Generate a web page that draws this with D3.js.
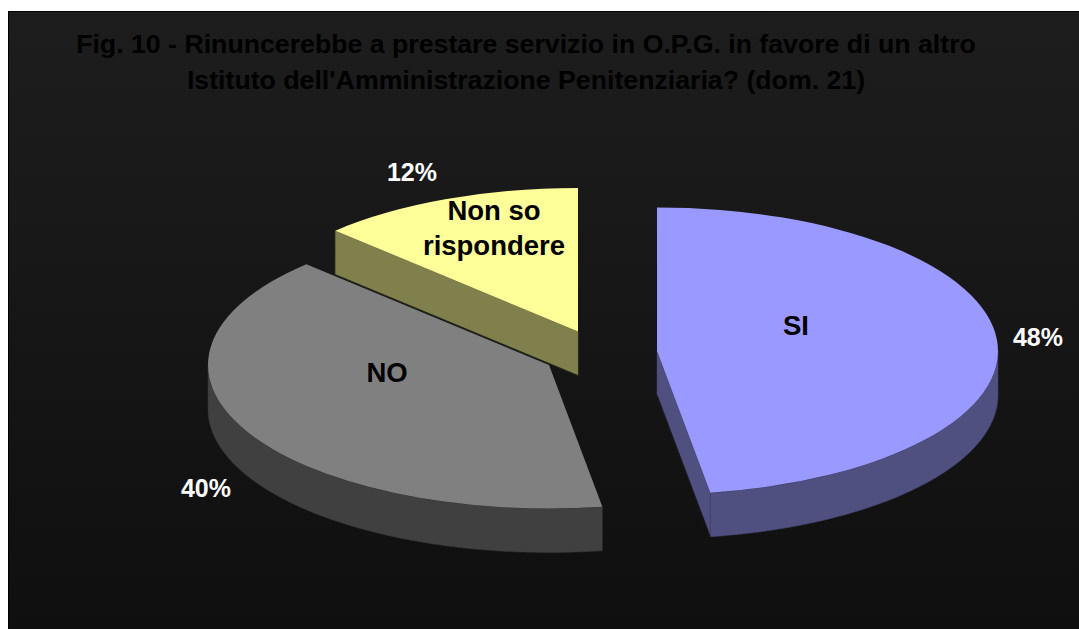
<!DOCTYPE html>
<html>
<head>
<meta charset="utf-8">
<script src="https://cdnjs.cloudflare.com/ajax/libs/d3/7.8.5/d3.min.js"></script>
<style>
  html, body { margin: 0; padding: 0; background: #fff; }
  svg { display: block; }
  text { font-family: "Liberation Sans", Arial, sans-serif; font-weight: bold; text-anchor: middle; }
</style>
</head>
<body>
<div id="chart"></div>
<script>
// values
const categories = ["SI", "NO", "Non so rispondere"];
const values = [47.5, 39.9, 12.6];
const percentLabels = ["48%", "40%", "12%"];
const titleLines = [
  "Fig. 10 - Rinuncerebbe a prestare servizio in O.P.G. in favore di un altro",
  "Istituto dell'Amministrazione Penitenziaria? (dom. 21)"
];

const w = 1079;
const h = 629;

// ellipse of the tilted pie and height of its side wall
const rx = 341;
const ry = 143.5;
const depth = 44;

// each slice is pulled away from the others, so each has its own apex
const apex = [[657, 351], [549, 365], [578, 331.5]];
const topColors = ["#9999ff", "#808080", "#ffff99"];
const sideColors = ["#4f4f80", "#404040", "#80804d"];

const catLabelPos = [[[796, 335]], [[387, 382]], [[494, 220], [494, 255]]];
const catLabelLines = [["SI"], ["NO"], ["Non so", "rispondere"]];
const pctLabelPos = [[1038, 346], [206, 497], [412, 181]];

const svg = d3.select("#chart").append("svg")
  .attr("width", w)
  .attr("height", h);

const grad = svg.append("defs").append("linearGradient")
  .attr("id", "bg")
  .attr("x1", 0).attr("y1", 0)
  .attr("x2", 0).attr("y2", 1);
grad.append("stop").attr("offset", "0%").attr("stop-color", "#1d1d1d");
grad.append("stop").attr("offset", "100%").attr("stop-color", "#0f0f0f");

// plot panel with thin black edge on top and left
svg.append("rect")
  .attr("x", 8).attr("y", 11)
  .attr("width", w - 8).attr("height", h - 11)
  .attr("fill", "url(#bg)");
svg.append("path")
  .attr("d", `M8.5,${h}V11.5H${w}`)
  .attr("fill", "none")
  .attr("stroke", "#000")
  .attr("stroke-width", 1);

// title
svg.selectAll(".title")
  .data(titleLines)
  .enter()
    .append("text")
    .classed("title", true)
    .attr("x", 526)
    .attr("y", (d, i) => 53 + i * 36)
    .attr("font-size", 26.7)
    .attr("fill", "#000")
    .text(d => d);

const pie = d3.pie().sort(null)(values);
const arc = d3.arc().innerRadius(0).outerRadius(rx);

// point of the ellipse at angle a (0 at the top, going clockwise)
const px = (i, a) => apex[i][0] + rx * Math.sin(a);
const py = (i, a) => apex[i][1] - ry * Math.cos(a);

const line = d3.line().x(d => d[0]).y(d => d[1]);

pie.forEach((slice, i) => {
  const g = svg.append("g").classed("slice", true);

  // outer wall, only the part on the front half of the ellipse
  const from = Math.max(slice.startAngle, Math.PI / 2);
  const to = Math.min(slice.endAngle, Math.PI * 1.5);
  if (from < to) {
    const angles = d3.range(from, to, 0.01).concat([to]);
    const upper = angles.map(a => [px(i, a), py(i, a)]);
    const lower = angles.slice().reverse().map(a => [px(i, a), py(i, a) + depth]);
    g.append("path")
      .attr("d", line(upper.concat(lower)) + "Z")
      .attr("fill", sideColors[i])
      .attr("stroke", d3.color(sideColors[i]).darker(0.4))
      .attr("stroke-width", 0.5);
  }

  // cut wall: start edge shows when it lies on the left, end edge when on the right
  const cut = [];
  if (Math.sin(slice.startAngle) < -0.001) cut.push(slice.startAngle);
  if (Math.sin(slice.endAngle) > 0.001) cut.push(slice.endAngle);
  cut.forEach(a => {
    const pts = [
      apex[i],
      [px(i, a), py(i, a)],
      [px(i, a), py(i, a) + depth],
      [apex[i][0], apex[i][1] + depth]
    ];
    g.append("path")
      .attr("d", line(pts) + "Z")
      .attr("fill", sideColors[i])
      .attr("stroke", d3.color(sideColors[i]).darker(0.4))
      .attr("stroke-width", 0.5);
    // dark seam under the wall
    g.append("path")
      .attr("d", line(pts.slice(2)))
      .attr("fill", "none")
      .attr("stroke", "#111")
      .attr("stroke-width", 0.8);
  });

  // top face
  g.append("path")
    .attr("d", arc(slice))
    .attr("transform", `translate(${apex[i][0]},${apex[i][1]}) scale(1,${ry / rx})`)
    .attr("fill", topColors[i]);
});

// category labels inside the slices
categories.forEach((c, i) => {
  catLabelLines[i].forEach((t, j) => {
    svg.append("text")
      .classed("cat-label", true)
      .attr("x", catLabelPos[i][j][0])
      .attr("y", catLabelPos[i][j][1])
      .attr("font-size", 27.5)
      .attr("fill", "#000")
      .text(t);
  });
});

// percent labels
svg.selectAll(".pct-label")
  .data(percentLabels)
  .enter()
    .append("text")
    .classed("pct-label", true)
    .attr("x", (d, i) => pctLabelPos[i][0])
    .attr("y", (d, i) => pctLabelPos[i][1])
    .attr("font-size", 25)
    .attr("fill", "#fff")
    .text(d => d);
</script>
</body>
</html>
